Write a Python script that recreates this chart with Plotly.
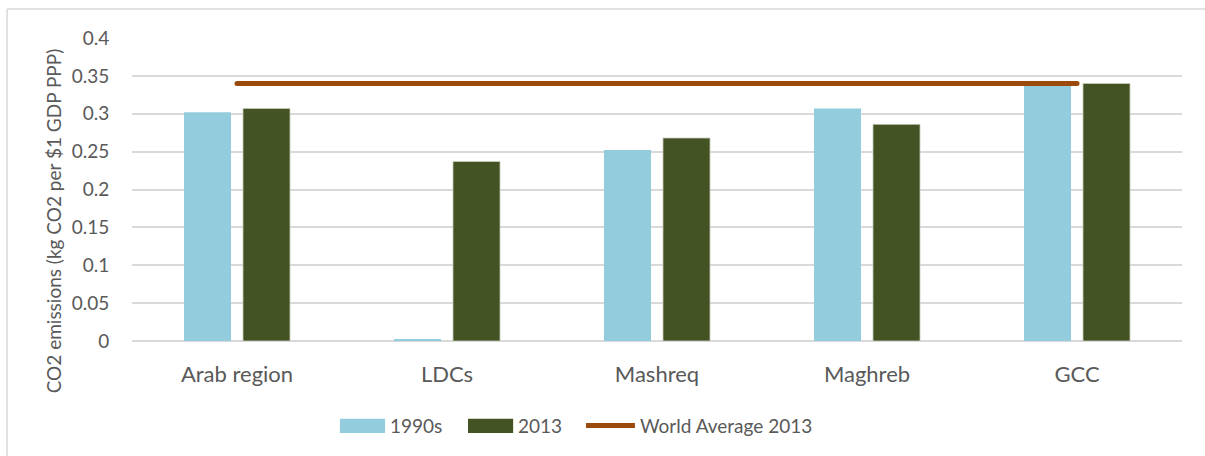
"""CO2 emissions intensity: Arab sub-regions vs world average."""

import plotly.graph_objects as go

regions = ["Arab region", "LDCs", "Mashreq", "Maghreb", "GCC"]
values_1990s = [0.302, 0.002, 0.252, 0.307, 0.340]
values_2013 = [0.307, 0.237, 0.268, 0.286, 0.340]
world_avg_2013 = [0.34, 0.34, 0.34, 0.34, 0.34]

y_ticks = [0, 0.05, 0.1, 0.15, 0.2, 0.25, 0.3, 0.35, 0.4]
y_tick_text = ["0", "0.05", "0.1", "0.15", "0.2", "0.25", "0.3", "0.35", "0.4"]

BLUE = "#93CDDD"
GREEN = "#435323"
BROWN = "#9C4A0C"
TEXT = "#595959"
GRID = "#D9D9D9"
FONT = "Lato, 'Open Sans', sans-serif"

fig = go.Figure()
fig.add_trace(go.Bar(x=regions, y=values_1990s, name="1990s",
                     marker=dict(color=BLUE, line=dict(width=0)),
                     showlegend=False))
fig.add_trace(go.Bar(x=regions, y=values_2013, name="2013",
                     marker=dict(color=GREEN, line=dict(width=0.8, color="#C9CFBF")),
                     showlegend=False))
fig.add_trace(go.Scatter(x=regions, y=world_avg_2013, name="World Average 2013",
                         mode="lines+markers",
                         line=dict(color=BROWN, width=5),
                         marker=dict(color=BROWN, size=5),
                         showlegend=False))

# hand-built legend so the swatches look like the original
legend_items = [
    ("rect", BLUE, 0.198, 0.241, "1990s"),
    ("rect", GREEN, 0.320, 0.363, "2013"),
    ("line", BROWN, 0.4324, 0.479, "World Average 2013"),
]
shapes = []
annotations = []
for kind, color, x0, x1, label in legend_items:
    if kind == "rect":
        shapes.append(dict(type="rect", xref="paper", yref="paper",
                           x0=x0, x1=x1, y0=-0.304, y1=-0.257,
                           fillcolor=color, line=dict(width=0)))
    else:
        shapes.append(dict(type="line", xref="paper", yref="paper",
                           x0=x0, x1=x1, y0=-0.279, y1=-0.279,
                           line=dict(color=color, width=5)))
    annotations.append(dict(text=label, xref="paper", yref="paper",
                            x=x1 + 0.003, y=-0.279, xanchor="left", yanchor="middle",
                            showarrow=False, font=dict(size=19, color=TEXT)))

# chart frame (top and left edges only are visible)
shapes.append(dict(type="line", xref="paper", yref="paper",
                   x0=-0.119, x1=1.1, y0=1.0957, y1=1.0957,
                   line=dict(color=GRID, width=1.5)))
shapes.append(dict(type="line", xref="paper", yref="paper",
                   x0=-0.119, x1=-0.119, y0=1.0957, y1=-0.4,
                   line=dict(color=GRID, width=1.5)))

annotations.append(dict(text="CO2 emissions (kg CO2 per $1 GDP PPP)",
                        xref="paper", yref="paper", x=-0.0752, y=0.395,
                        textangle=-90, showarrow=False,
                        xanchor="center", yanchor="middle",
                        font=dict(size=19, color=TEXT)))

fig.update_layout(
    width=1205,
    height=456,
    template="plotly_white",
    plot_bgcolor="white",
    paper_bgcolor="white",
    font=dict(family=FONT, color=TEXT),
    barmode="group",
    bargap=0.438,
    bargroupgap=0.203,
    margin=dict(l=132, r=23, t=38, b=115),
    shapes=shapes,
    annotations=annotations,
    showlegend=False,
)
fig.update_xaxes(showgrid=False, showline=False,
                 ticks="outside", ticklen=14, tickcolor="rgba(0,0,0,0)",
                 tickfont=dict(size=22, color=TEXT))
fig.update_yaxes(range=[0, 0.4], tickvals=y_ticks, ticktext=y_tick_text,
                 showgrid=True, gridcolor=GRID, gridwidth=1.5,
                 zeroline=True, zerolinecolor=GRID, zerolinewidth=1.5,
                 ticks="outside", ticklen=18, tickcolor="rgba(0,0,0,0)",
                 tickfont=dict(size=19, color=TEXT))

fig.write_html("out.html", config={"displayModeBar": False},
               post_script="document.body.style.margin='0';")
